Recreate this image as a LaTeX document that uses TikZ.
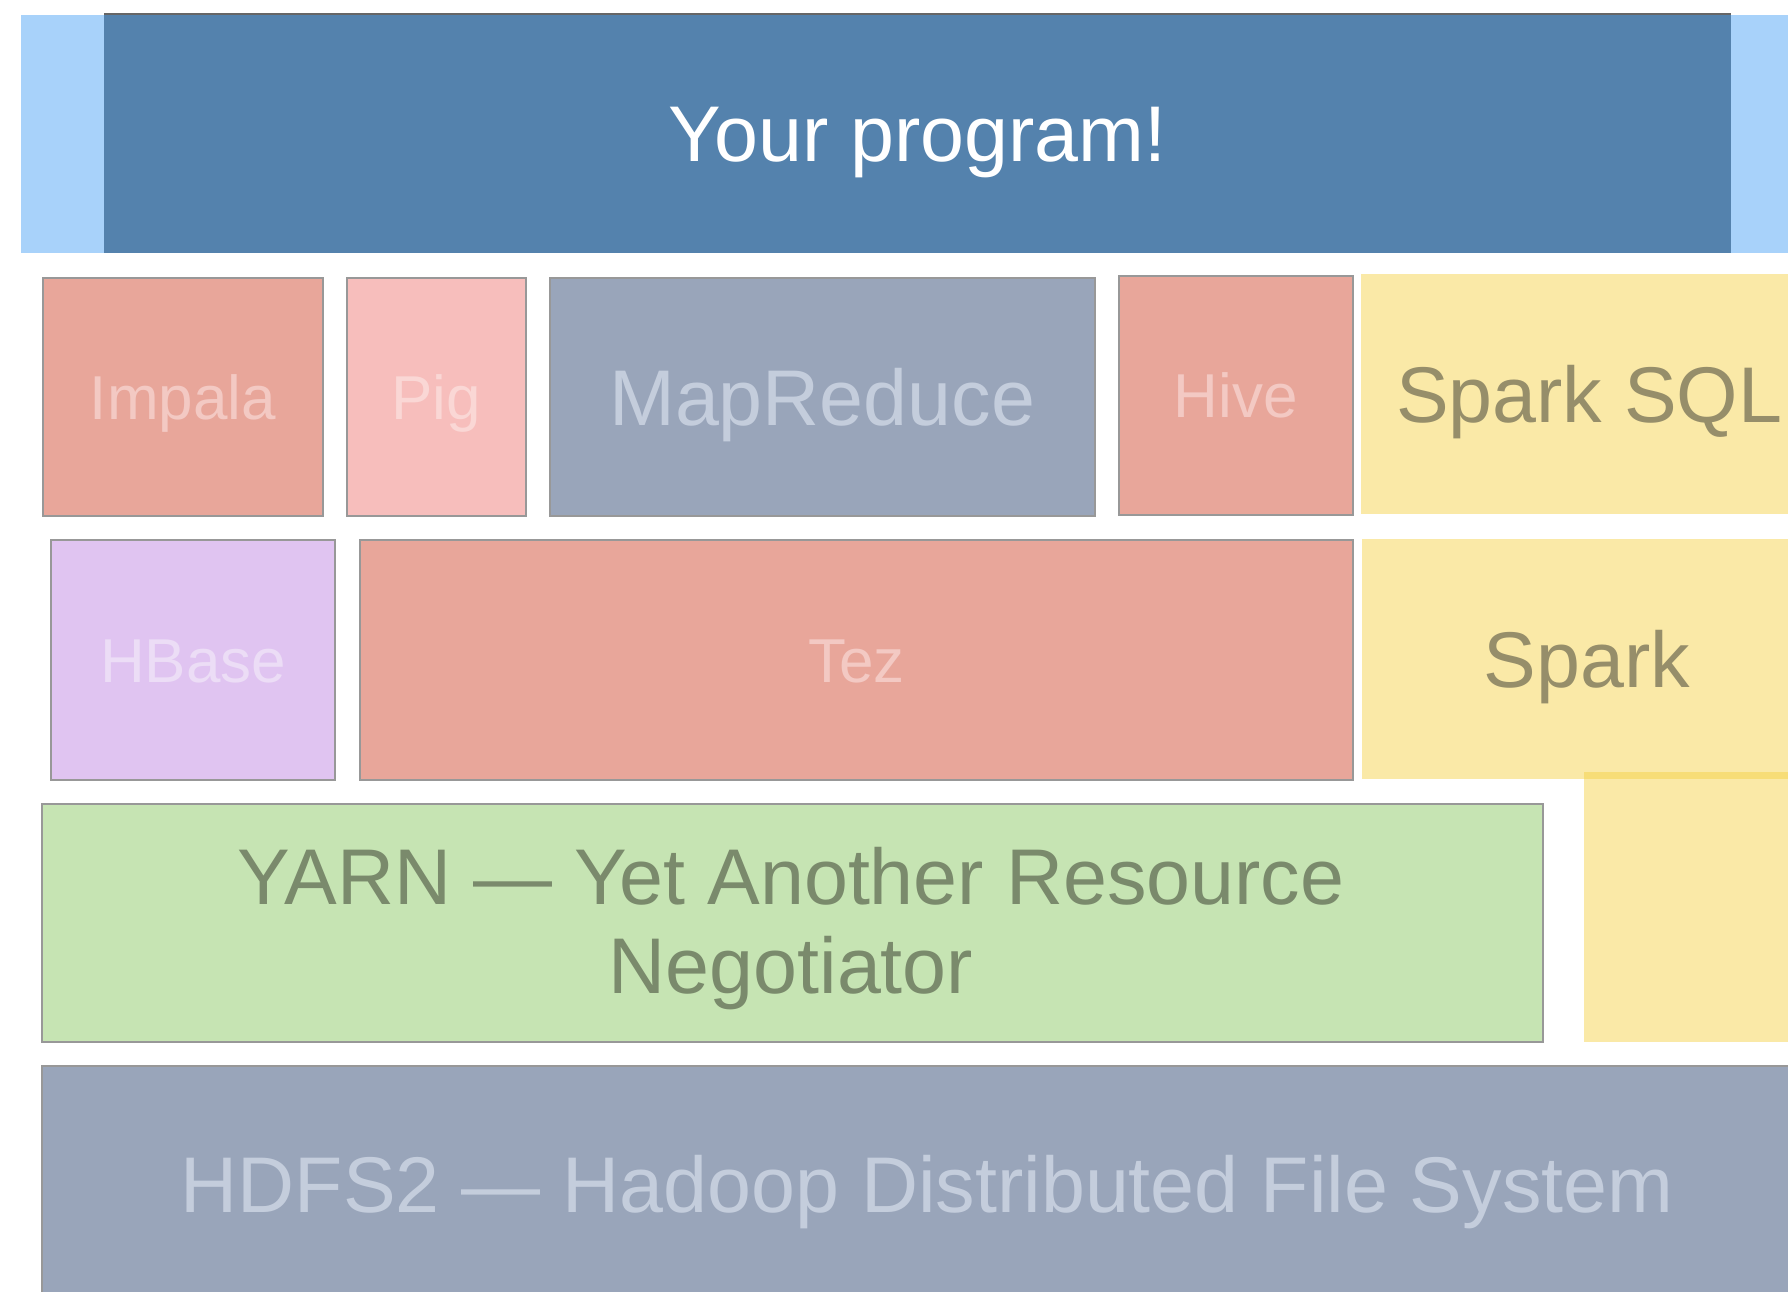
\documentclass[tikz,border=0pt]{standalone}
\usepackage{fontspec}
\setmainfont{Liberation Sans}
\definecolor{lightband}{RGB}{168,210,250}
\definecolor{progblue}{RGB}{84,130,173}
\definecolor{salmon}{RGB}{232,166,154}
\definecolor{salmontxt}{RGB}{243,201,195}
\definecolor{pigfill}{RGB}{247,190,188}
\definecolor{pigtxt}{RGB}{250,215,213}
\definecolor{slate}{RGB}{153,165,186}
\definecolor{slatetxt}{RGB}{196,205,220}
\definecolor{lilac}{RGB}{224,196,241}
\definecolor{lilactxt}{RGB}{236,221,246}
\definecolor{sparkbase}{RGB}{244,208,61}
\definecolor{sparktxt}{RGB}{150,142,106}
\definecolor{yarnfill}{RGB}{198,228,179}
\definecolor{yarntxt}{RGB}{122,138,108}
\definecolor{edgegray}{RGB}{152,152,152}
\tikzset{
  x=1pt, y=-1pt,
  box/.style={draw=edgegray, line width=2.4pt, inner sep=0pt},
  bigtxt/.style={font=\fontsize{79}{89}\selectfont, text height=56.6pt, text depth=0pt},
  smalltxt/.style={font=\fontsize{62}{70}\selectfont, text height=44.4pt, text depth=0pt},
  sparkbox/.style={fill=sparkbase, fill opacity=0.45, text opacity=1, inner sep=0pt, text=sparktxt}
}
\begin{document}
\begin{tikzpicture}
\clip (0,0) rectangle (1788,1292);
\fill[white] (0,0) rectangle (1788,1292);
% top band
\fill[lightband] (20.5,14.8) rectangle (1800,253);
\node[fill=progblue, inner sep=0pt, anchor=north west, minimum width=1627pt, minimum height=239pt, text=white, bigtxt] (prog) at (104,14) {Your program!};
\draw[line width=1.5pt, black!60] (prog.north west) -- (prog.north east);
% row 1
\node[box, fill=salmon, text=salmontxt, smalltxt, anchor=north west, minimum width=279.6pt, minimum height=238pt] (impala) at (42,277) {Impala};
\node[box, fill=pigfill, text=pigtxt, smalltxt, anchor=north west, minimum width=179pt, minimum height=238pt] (pig) at (345.5,277) {Pig};
\node[box, fill=slate, text=slatetxt, bigtxt, anchor=north west, minimum width=545pt, minimum height=238pt] (mapreduce) at (548.5,277) {MapReduce};
\node[box, fill=salmon, text=salmontxt, smalltxt, anchor=north west, minimum width=234pt, minimum height=239pt] (hive) at (1117.5,275) {Hive};
\node[sparkbox, bigtxt, anchor=north west, minimum width=457pt, minimum height=240.5pt] (sparksql) at (1360.5,273.5) {Spark SQL};
% row 2
\node[box, fill=lilac, text=lilactxt, smalltxt, anchor=north west, minimum width=284pt, minimum height=240pt] (hbase) at (50,539) {HBase};
\node[box, fill=salmon, text=salmontxt, smalltxt, anchor=north west, minimum width=992.5pt, minimum height=240pt] (tez) at (359,539) {Tez};
\node[sparkbox, bigtxt, anchor=north west, minimum width=450.5pt, minimum height=240pt] (spark) at (1361.5,539) {Spark};
\node[sparkbox, anchor=north west, minimum width=232pt, minimum height=269.5pt] (sparkbase) at (1584,772) {};
% YARN
\node[box, fill=yarnfill, anchor=north west, minimum width=1501pt, minimum height=238.5pt] (yarn) at (41,802.5) {};
\node[text=yarntxt, font=\fontsize{79}{89}\selectfont, align=center, inner sep=0pt] (yarntext) at (791,929) {YARN — Yet Another Resource\\Negotiator};
% HDFS
\node[box, fill=slate, text=slatetxt, bigtxt, anchor=north west, minimum width=1770pt, minimum height=235.4pt] (hdfs) at (41,1065) {HDFS2 — Hadoop Distributed File System};
\end{tikzpicture}
\end{document}
